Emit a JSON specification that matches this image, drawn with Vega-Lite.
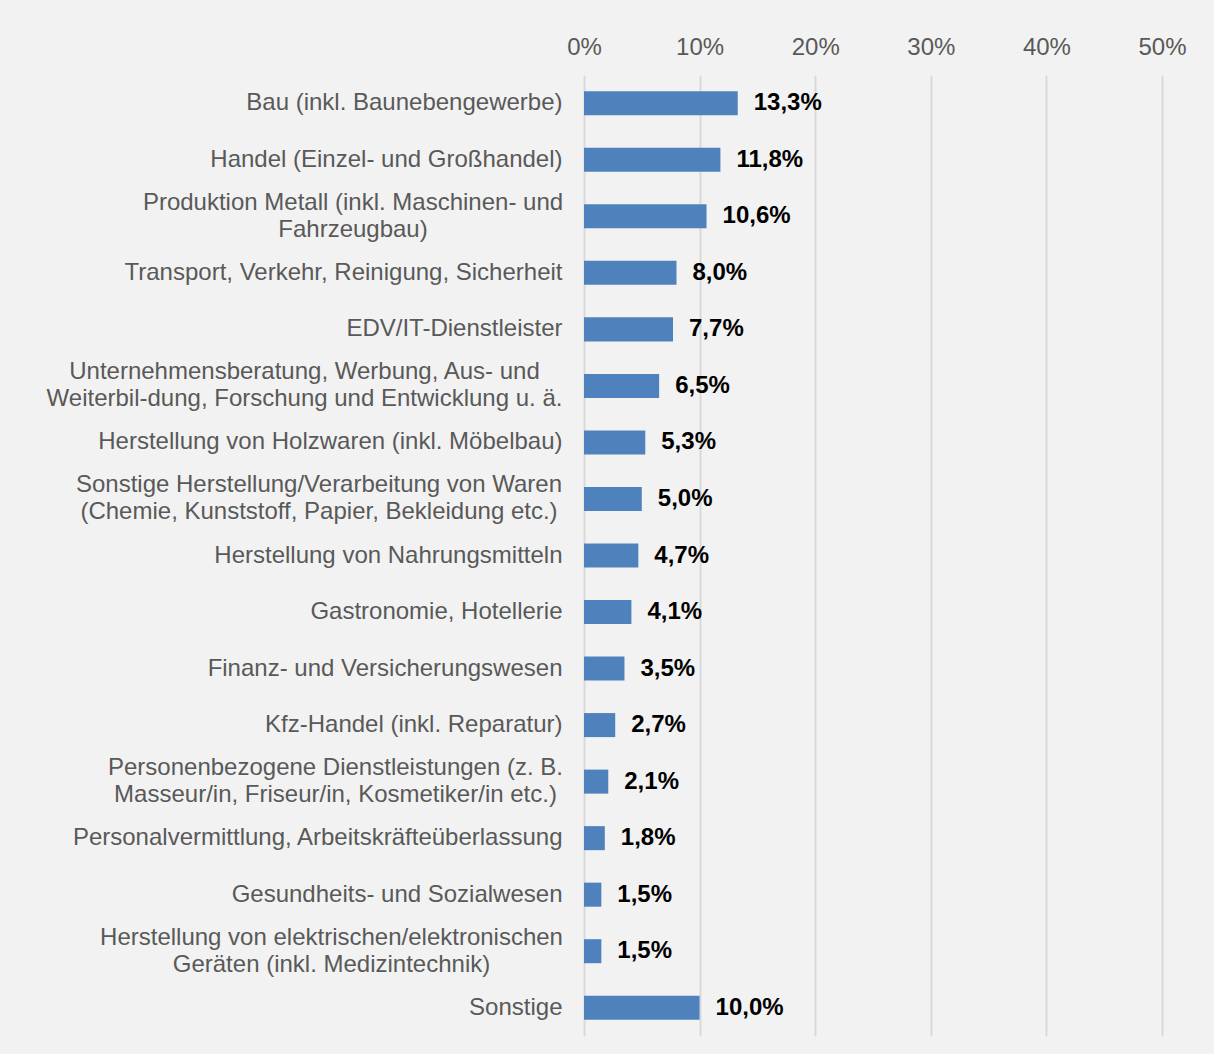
{
  "$schema": "https://vega.github.io/schema/vega-lite/v6.json",
  "width": 578,
  "height": 961,
  "autosize": "none",
  "padding": {"left": 584, "top": 75, "right": 52, "bottom": 18},
  "background": "#f2f2f2",
  "config": {
    "view": {"stroke": null},
    "locale": {"number": {"decimal": ",", "thousands": ".", "grouping": [3], "currency": ["", " €"]}},
    "font": "Liberation Sans",
    "axis": {"labelFont": "Liberation Sans"},
    "text": {"font": "Liberation Sans"}
  },
  "data": {
    "values": [
      {"branche": "Bau (inkl. Baunebengewerbe)", "anteil": 0.133},
      {"branche": "Handel (Einzel- und Großhandel)", "anteil": 0.118},
      {"branche": "Produktion Metall (inkl. Maschinen- und|Fahrzeugbau)", "anteil": 0.106},
      {"branche": "Transport, Verkehr, Reinigung, Sicherheit", "anteil": 0.080},
      {"branche": "EDV/IT-Dienstleister", "anteil": 0.077},
      {"branche": "Unternehmensberatung, Werbung, Aus- und|Weiterbil-dung, Forschung und Entwicklung u. ä.", "anteil": 0.065},
      {"branche": "Herstellung von Holzwaren (inkl. Möbelbau)", "anteil": 0.053},
      {"branche": "Sonstige Herstellung/Verarbeitung von Waren|(Chemie, Kunststoff, Papier, Bekleidung etc.)", "anteil": 0.050},
      {"branche": "Herstellung von Nahrungsmitteln", "anteil": 0.047},
      {"branche": "Gastronomie, Hotellerie", "anteil": 0.041},
      {"branche": "Finanz- und Versicherungswesen", "anteil": 0.035},
      {"branche": "Kfz-Handel (inkl. Reparatur)", "anteil": 0.027},
      {"branche": "Personenbezogene Dienstleistungen (z. B.|Masseur/in, Friseur/in, Kosmetiker/in etc.)", "anteil": 0.021},
      {"branche": "Personalvermittlung, Arbeitskräfteüberlassung", "anteil": 0.018},
      {"branche": "Gesundheits- und Sozialwesen", "anteil": 0.015},
      {"branche": "Herstellung von elektrischen/elektronischen|Geräten (inkl. Medizintechnik)", "anteil": 0.015},
      {"branche": "Sonstige", "anteil": 0.100}
    ]
  },
  "encoding": {
    "y": {
      "field": "branche",
      "type": "nominal",
      "sort": null,
      "title": null,
      "scale": {"paddingInner": 0.575, "paddingOuter": 0.2875},
      "axis": {
        "domain": false,
        "ticks": false,
        "labelLimit": 700,
        "labelFontSize": 24,
        "labelColor": "#595959",
        "labelLineHeight": 27,
        "labelExpr": "split(datum.label, '|')",
        "labelOffset": {"condition": {"test": "indexof(datum.label, '|') >= 0", "value": -13.5}, "value": 0},
        "labelAlign": {"condition": {"test": "indexof(datum.label, '|') >= 0", "value": "center"}, "value": "right"},
        "labelPadding": {
          "condition": [
            {"test": "indexof(datum.label, 'Produktion') == 0", "value": 231.5},
            {"test": "indexof(datum.label, 'Unternehmens') == 0", "value": 280},
            {"test": "indexof(datum.label, 'Sonstige Her') == 0", "value": 265.5},
            {"test": "indexof(datum.label, 'Personenbez') == 0", "value": 249},
            {"test": "indexof(datum.label, 'Herstellung von elek') == 0", "value": 253}
          ],
          "value": 22
        }
      }
    },
    "x": {
      "field": "anteil",
      "type": "quantitative",
      "title": null,
      "scale": {"domain": [0, 0.5], "nice": false},
      "axis": {
        "orient": "top",
        "format": "%",
        "values": [0, 0.1, 0.2, 0.3, 0.4, 0.5],
        "domain": false,
        "ticks": false,
        "labelFlush": false,
        "labelPadding": 16,
        "labelFontSize": 24,
        "labelColor": "#595959",
        "gridColor": "#d9d9d9",
        "gridWidth": 2
      }
    }
  },
  "layer": [
    {"mark": {"type": "bar", "color": "#4f81bd"}},
    {
      "mark": {"type": "text", "align": "left", "dx": 16, "fontWeight": "bold", "fontSize": 24, "color": "#000000", "font": "Liberation Sans"},
      "encoding": {"text": {"field": "anteil", "type": "quantitative", "format": ".1%"}}
    }
  ]
}
